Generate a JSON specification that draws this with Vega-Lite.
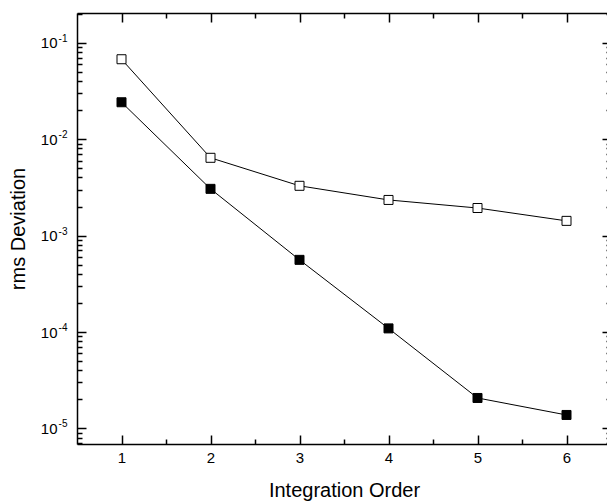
{
  "$schema": "https://vega.github.io/schema/vega-lite/v6.json",
  "width": 534,
  "height": 431,
  "autosize": "none",
  "padding": {"left": 77, "top": 13, "right": 0, "bottom": 58},
  "background": "white",
  "config": {
    "view": {"stroke": null},
    "axis": {
      "labelFont": "Liberation Sans",
      "titleFont": "Liberation Sans",
      "labelColor": "black",
      "titleColor": "black",
      "domainColor": "black",
      "tickColor": "black",
      "domainWidth": 1.5,
      "tickWidth": 1.5,
      "grid": false,
      "labelFontSize": 15,
      "titleFontSize": 20,
      "titleFontWeight": "normal"
    }
  },
  "data": {
    "values": [
      {"order": 1, "dev": 0.0673, "series": "open"},
      {"order": 2, "dev": 0.0064, "series": "open"},
      {"order": 3, "dev": 0.00328, "series": "open"},
      {"order": 4, "dev": 0.00234, "series": "open"},
      {"order": 5, "dev": 0.00193, "series": "open"},
      {"order": 6, "dev": 0.00142, "series": "open"},
      {"order": 1, "dev": 0.0241, "series": "filled"},
      {"order": 2, "dev": 0.00305, "series": "filled"},
      {"order": 3, "dev": 0.00056, "series": "filled"},
      {"order": 4, "dev": 0.000109, "series": "filled"},
      {"order": 5, "dev": 0.0000207, "series": "filled"},
      {"order": 6, "dev": 0.0000138, "series": "filled"}
    ]
  },
  "layer": [
    {
      "mark": {"type": "line", "color": "black", "strokeWidth": 1},
      "encoding": {
        "x": {
          "field": "order", "type": "quantitative",
          "scale": {"domain": [0.5, 6.5], "nice": false, "zero": false},
          "axis": {"orient": "bottom", "values": [1, 2, 3, 4, 5, 6], "tickSize": -9, "labelPadding": 15, "title": "Integration Order", "titlePadding": 15, "format": "d"}
        },
        "y": {
          "field": "dev", "type": "quantitative",
          "scale": {"type": "log", "domain": [0.0000069, 0.203], "nice": false},
          "axis": {
            "orient": "left",
            "values": [0.00001, 0.0001, 0.001, 0.01, 0.1],
            "tickSize": -9, "labelPadding": 29,
            "labelExpr": "'10'",
            "title": "rms Deviation", "titlePadding": 12
          }
        },
        "detail": {"field": "series"}
      }
    },
    {
      "mark": {"type": "point", "shape": "square", "filled": true, "size": 81, "stroke": "black", "strokeWidth": 1, "opacity": 1},
      "encoding": {
        "x": {
          "field": "order", "type": "quantitative",
          "scale": {"domain": [0.5, 6.5], "nice": false, "zero": false},
          "axis": {"orient": "top", "values": [1, 2, 3, 4, 5, 6], "tickSize": -9, "labels": false, "title": null}
        },
        "y": {
          "field": "dev", "type": "quantitative",
          "scale": {"type": "log", "domain": [0.0000069, 0.203], "nice": false},
          "axis": {"orient": "right", "values": [0.00001, 0.0001, 0.001, 0.01, 0.1], "tickSize": -9, "labels": false, "title": null}
        },
        "fill": {
          "field": "series", "type": "nominal",
          "scale": {"domain": ["filled", "open"], "range": ["black", "white"]},
          "legend": null
        }
      }
    },
    {
      "mark": {"type": "point", "opacity": 0},
      "encoding": {
        "x": {
          "field": "order", "type": "quantitative",
          "scale": {"domain": [0.5, 6.5], "nice": false, "zero": false},
          "axis": {"orient": "bottom", "values": [1.5, 2.5, 3.5, 4.5, 5.5], "tickSize": -5, "labels": false, "domain": false, "title": null}
        },
        "y": {
          "field": "dev", "type": "quantitative",
          "scale": {"type": "log", "domain": [0.0000069, 0.203], "nice": false},
          "axis": {
            "orient": "left",
            "values": [0.000007, 0.000008, 0.000009, 0.00002, 0.00003, 0.00004, 0.00005, 0.00006, 0.00007, 0.00008, 0.00009, 0.0002, 0.0003, 0.0004, 0.0005, 0.0006, 0.0007, 0.0008, 0.0009, 0.002, 0.003, 0.004, 0.005, 0.006, 0.007, 0.008, 0.009, 0.02, 0.03, 0.04, 0.05, 0.06, 0.07, 0.08, 0.09, 0.2],
            "tickSize": -5, "labels": false, "domain": false, "title": null
          }
        }
      }
    },
    {
      "mark": {"type": "point", "opacity": 0},
      "encoding": {
        "x": {
          "field": "order", "type": "quantitative",
          "scale": {"domain": [0.5, 6.5], "nice": false, "zero": false},
          "axis": {"orient": "top", "values": [1.5, 2.5, 3.5, 4.5, 5.5], "tickSize": -5, "labels": false, "domain": false, "title": null}
        },
        "y": {
          "field": "dev", "type": "quantitative",
          "scale": {"type": "log", "domain": [0.0000069, 0.203], "nice": false},
          "axis": {
            "orient": "right",
            "values": [0.000007, 0.000008, 0.000009, 0.00002, 0.00003, 0.00004, 0.00005, 0.00006, 0.00007, 0.00008, 0.00009, 0.0002, 0.0003, 0.0004, 0.0005, 0.0006, 0.0007, 0.0008, 0.0009, 0.002, 0.003, 0.004, 0.005, 0.006, 0.007, 0.008, 0.009, 0.02, 0.03, 0.04, 0.05, 0.06, 0.07, 0.08, 0.09, 0.2],
            "tickSize": -5, "labels": false, "domain": false, "title": null
          }
        }
      }
    },
    {
      "mark": {"type": "point", "opacity": 0},
      "encoding": {
        "x": {
          "field": "order", "type": "quantitative",
          "scale": {"domain": [0.5, 6.5], "nice": false, "zero": false},
          "axis": null
        },
        "y": {
          "field": "dev", "type": "quantitative",
          "scale": {"type": "log", "domain": [0.0000069, 0.203], "nice": false},
          "axis": {
            "orient": "left",
            "values": [0.00001, 0.0001, 0.001, 0.01, 0.1],
            "tickSize": 0, "tickOpacity": 0, "domain": false, "title": null,
            "labelPadding": 10, "labelFontSize": 10, "labelOffset": -4.5,
            "labelExpr": "datum.value < 0.00005 ? '-5' : datum.value < 0.0005 ? '-4' : datum.value < 0.005 ? '-3' : datum.value < 0.05 ? '-2' : '-1'"
          }
        }
      }
    }
  ],
  "resolve": {"axis": {"x": "independent", "y": "independent"}}
}
